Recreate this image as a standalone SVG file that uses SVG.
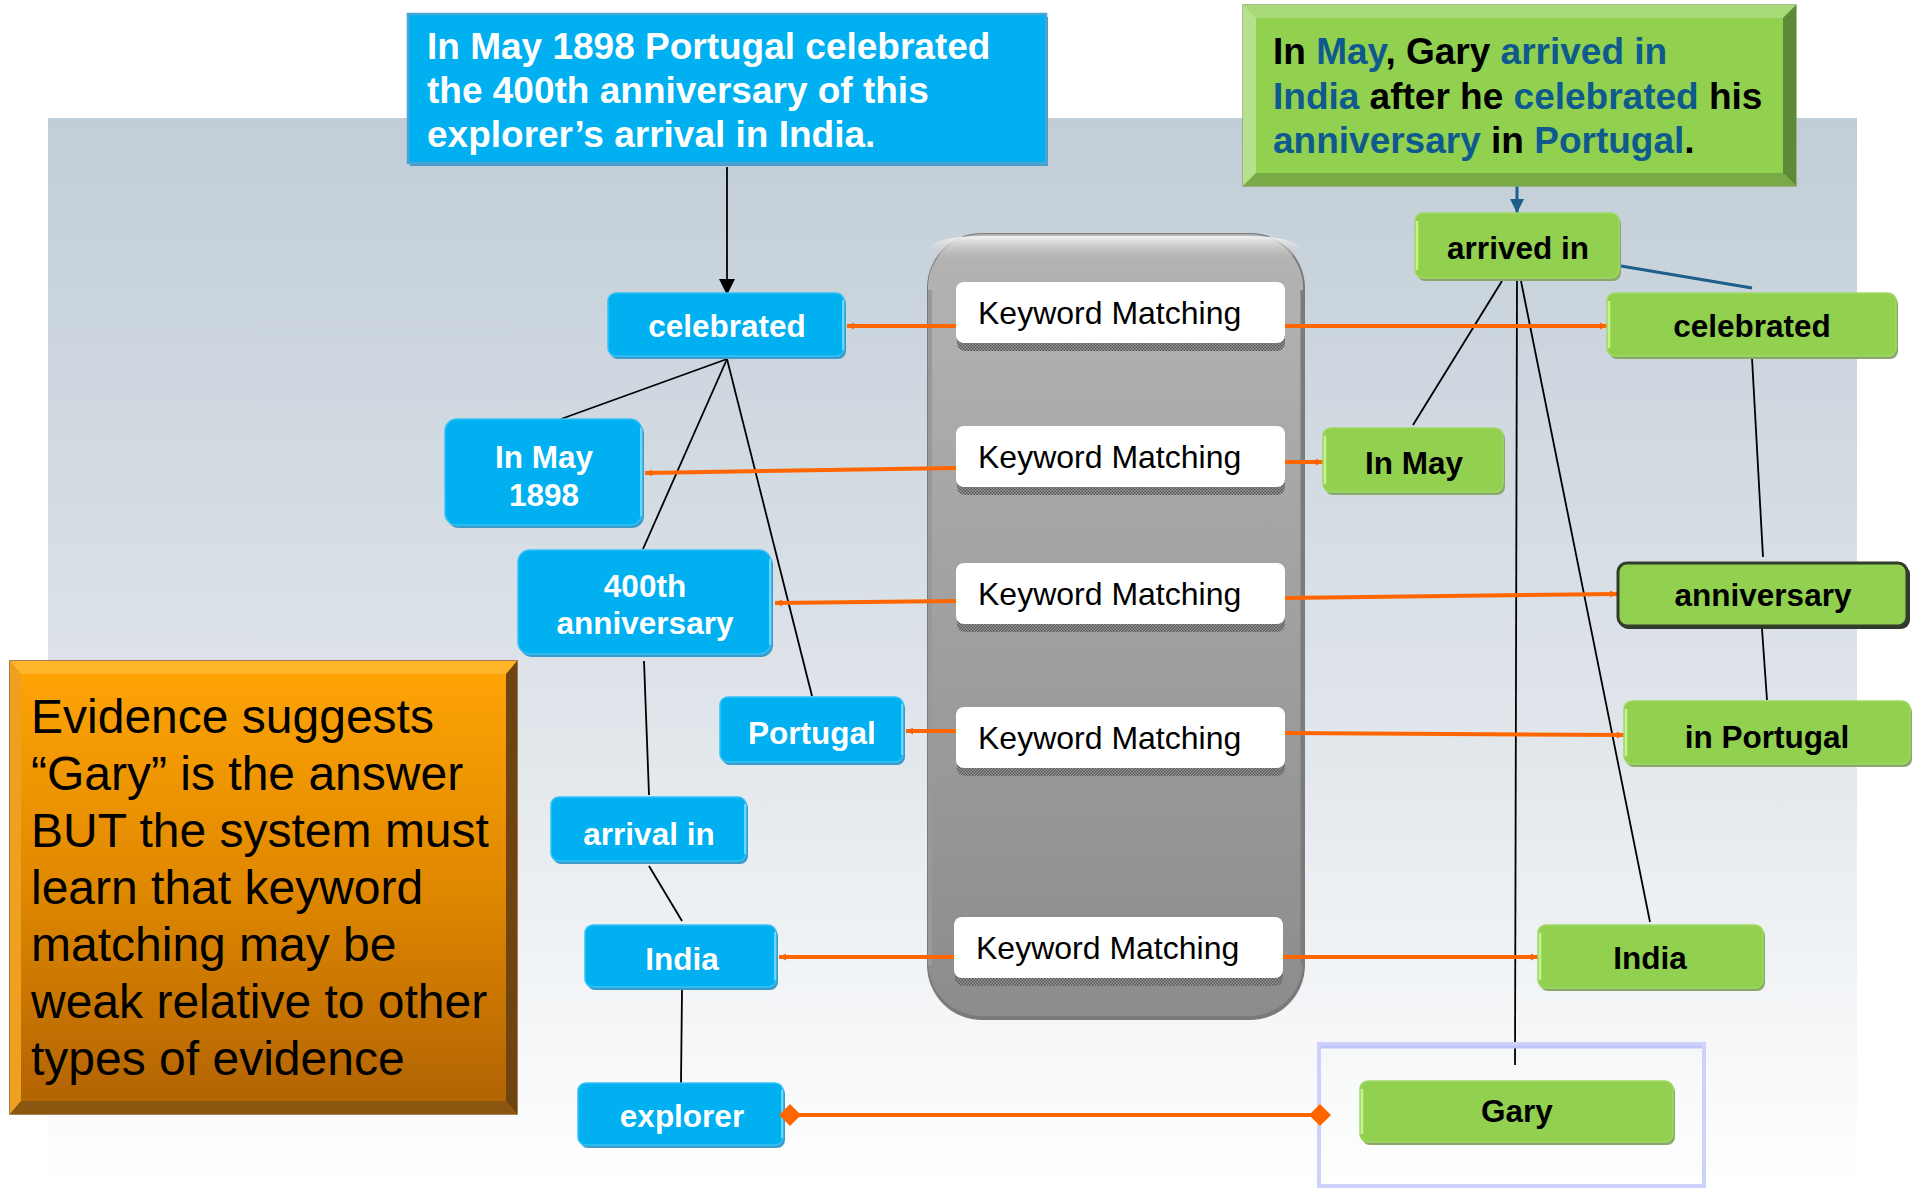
<svg xmlns="http://www.w3.org/2000/svg" width="1916" height="1189" viewBox="0 0 1916 1189">
<defs>
<linearGradient id="gpanel" x1="0" y1="0" x2="0" y2="1">
<stop offset="0" stop-color="#c1cdd7"/><stop offset="0.5" stop-color="#dce2e8"/><stop offset="1" stop-color="#ffffff"/>
</linearGradient>
<linearGradient id="gcont" x1="0" y1="0" x2="0" y2="1">
<stop offset="0" stop-color="#b4b4b4"/><stop offset="1" stop-color="#8c8c8c"/>
</linearGradient>
<linearGradient id="gorange" x1="0" y1="0" x2="0" y2="1">
<stop offset="0" stop-color="#ffa506"/><stop offset="0.5" stop-color="#e08800"/><stop offset="1" stop-color="#b06204"/>
</linearGradient>
<linearGradient id="ghl" x1="0" y1="0" x2="0" y2="1">
<stop offset="0" stop-color="#f4f4f4"/><stop offset="1" stop-color="#b4b4b4" stop-opacity="0"/>
</linearGradient>
<pattern id="hatch" width="3" height="3" patternUnits="userSpaceOnUse">
<rect width="3" height="3" fill="#9a9a9a"/><rect width="1.5" height="1.5" fill="#555"/><rect x="1.5" y="1.5" width="1.5" height="1.5" fill="#555"/>
</pattern>
<marker id="tri" viewBox="0 0 10 10" refX="10" refY="5" markerWidth="7" markerHeight="10" markerUnits="userSpaceOnUse" orient="auto">
<path d="M0,0 L10,5 L0,10 z" fill="#ff6600"/>
</marker>
<marker id="dia" viewBox="0 0 10 10" refX="5" refY="5" markerWidth="22" markerHeight="22" markerUnits="userSpaceOnUse" orient="auto">
<path d="M0,5 L5,0 L10,5 L5,10 z" fill="#ff6600"/>
</marker>
<marker id="arrB" viewBox="0 0 10 10" refX="10" refY="5" markerWidth="22" markerHeight="16" markerUnits="userSpaceOnUse" orient="auto">
<path d="M0,0 L10,5 L0,10 z" fill="#000"/>
</marker>
<marker id="arrT" viewBox="0 0 10 10" refX="10" refY="5" markerWidth="17" markerHeight="14" markerUnits="userSpaceOnUse" orient="auto">
<path d="M0,0 L10,5 L0,10 z" fill="#1d5e8a"/>
</marker>
</defs>
<style>
.bsh{fill:#3a9cca}
.bn{fill:#00b0f0;stroke:#33c2f6;stroke-width:1.5}
.bhl{stroke:#6ad8ff;stroke-width:2}
.gsh{fill:#8ba86a}
.gn{fill:#92d050;stroke:#9fd964;stroke-width:1.5}
.ghl{stroke:#c8f290;stroke-width:2.5}
.bt{font-family:"Liberation Sans",Arial,sans-serif;font-weight:bold;font-size:31.5px;fill:#fff;text-anchor:middle}
.gt{font-family:"Liberation Sans",Arial,sans-serif;font-weight:bold;font-size:31.5px;fill:#000;text-anchor:middle}
.km{fill:#fff}
.kms{fill:url(#hatch)}
.kt{font-family:"Liberation Sans",Arial,sans-serif;font-size:32px;fill:#000}
.or{stroke:#ff6600;stroke-width:4;fill:none}
.bl{stroke:#000;stroke-width:1.8;fill:none}
.big{font-family:"Liberation Sans",Arial,sans-serif;font-weight:bold;font-size:37px}
.db{fill:#0e5a8c}
.ev{font-family:"Liberation Sans",Arial,sans-serif;font-size:48px;fill:#000}
</style>

<rect x="0" y="0" width="1916" height="1189" fill="#fff"/>
<rect x="48" y="118" width="1809" height="1071" fill="url(#gpanel)"/>

<g id="matcher">
<rect x="927" y="233" width="378" height="787" rx="55" fill="#7a7a7a"/>
<rect x="928" y="234" width="375" height="782" rx="54" fill="url(#gcont)"/>
<rect x="930" y="236" width="370" height="26" rx="50" fill="url(#ghl)"/>
<line x1="930" y1="290" x2="930" y2="965" stroke="#999" stroke-width="4"/>
<line x1="1302" y1="290" x2="1302" y2="965" stroke="#7c7c7c" stroke-width="3"/>
</g>

<g id="connectors">
<line class="bl" x1="727" y1="167" x2="727" y2="295" marker-end="url(#arrB)"/>
<line x1="1517" y1="186" x2="1517" y2="213" stroke="#1d5e8a" stroke-width="3" marker-end="url(#arrT)"/>
<line x1="1621" y1="266" x2="1752" y2="288" stroke="#1d5e8a" stroke-width="3"/>
<line class="bl" x1="727" y1="359" x2="561" y2="419"/>
<line class="bl" x1="727" y1="359" x2="643" y2="549"/>
<line class="bl" x1="727" y1="359" x2="812" y2="696"/>
<line class="bl" x1="644" y1="661" x2="649" y2="795"/>
<line class="bl" x1="649" y1="866" x2="682" y2="921"/>
<line class="bl" x1="682" y1="990" x2="681" y2="1084"/>
<line class="bl" x1="1502" y1="281" x2="1413" y2="425"/>
<line class="bl" x1="1517" y1="281" x2="1515" y2="1065"/>
<line class="bl" x1="1521" y1="281" x2="1650" y2="922"/>
<line class="bl" x1="1752" y1="358" x2="1763" y2="557"/>
<line class="bl" x1="1762" y1="629" x2="1767" y2="700"/>
<line class="or" x1="956" y1="326" x2="847" y2="326" marker-end="url(#tri)"/>
<line class="or" x1="1285" y1="326" x2="1607" y2="326" marker-end="url(#tri)"/>
<line class="or" x1="956" y1="468" x2="645" y2="473" marker-end="url(#tri)"/>
<line class="or" x1="1285" y1="462" x2="1323" y2="462" marker-end="url(#tri)"/>
<line class="or" x1="956" y1="601" x2="775" y2="603" marker-end="url(#tri)"/>
<line class="or" x1="1285" y1="598" x2="1617" y2="594" marker-end="url(#tri)"/>
<line class="or" x1="956" y1="731" x2="906" y2="731" marker-end="url(#tri)"/>
<line class="or" x1="1285" y1="733" x2="1624" y2="735" marker-end="url(#tri)"/>
<line class="or" x1="956" y1="957" x2="779" y2="957" marker-end="url(#tri)"/>
<line class="or" x1="1283" y1="957" x2="1538" y2="957" marker-end="url(#tri)"/>
</g>

<g id="question">
<rect x="410" y="17" width="638" height="149" fill="#4a9cc8"/>
<rect x="408" y="14" width="638" height="149" fill="#00b0f0" stroke="#48a6d6" stroke-width="2.5"/>
<text class="big" fill="#fff"><tspan x="427" y="59">In May 1898 Portugal celebrated</tspan><tspan x="427" y="103">the 400th anniversary of this</tspan><tspan x="427" y="147">explorer’s arrival in India.</tspan></text>
</g>

<g id="passage">
<rect x="1243" y="5" width="553" height="181" fill="#92d050" stroke="#8aa872" stroke-width="1.5"/>
<polygon points="1243,5 1796,5 1783,18 1256,18" fill="#a8da78"/>
<polygon points="1243,5 1256,18 1256,173 1243,186" fill="#b6e28e"/>
<polygon points="1796,5 1796,186 1783,173 1783,18" fill="#5d8a36"/>
<polygon points="1243,186 1796,186 1783,173 1256,173" fill="#79aa46"/>
<text class="big" fill="#000"><tspan x="1273" y="64">In <tspan class="db">May</tspan>, Gary <tspan class="db">arrived in</tspan></tspan><tspan x="1273" y="109"><tspan class="db">India</tspan> after he <tspan class="db">celebrated</tspan> his</tspan><tspan x="1273" y="153"><tspan class="db">anniversary</tspan> in <tspan class="db">Portugal</tspan>.</tspan></text>
</g>

<g id="note">
<rect x="10" y="661" width="507" height="453" fill="url(#gorange)" stroke="#8a5a18" stroke-width="1.5"/>
<polygon points="10,661 517,661 506,674 21,674" fill="#ffb52a"/>
<polygon points="10,661 21,674 21,1101 10,1114" fill="#f0a020"/>
<polygon points="517,661 517,1114 506,1101 506,674" fill="#6e4410"/>
<polygon points="10,1114 517,1114 506,1101 21,1101" fill="#8a5610"/>
<text class="ev"><tspan x="31" y="733">Evidence suggests</tspan><tspan x="31" y="790">“Gary” is the answer</tspan><tspan x="31" y="847">BUT the system must</tspan><tspan x="31" y="904">learn that keyword</tspan><tspan x="31" y="961">matching may be</tspan><tspan x="31" y="1018">weak relative to other</tspan><tspan x="31" y="1075">types of evidence</tspan></text>
</g>

<g id="km1"><rect class="kms" x="957" y="290" width="328" height="61" rx="8"/><rect class="km" x="956" y="282" width="329" height="61" rx="8"/><text class="kt" x="978" y="324">Keyword Matching</text></g>
<g id="km2"><rect class="kms" x="957" y="434" width="328" height="61" rx="8"/><rect class="km" x="956" y="426" width="329" height="61" rx="8"/><text class="kt" x="978" y="468">Keyword Matching</text></g>
<g id="km3"><rect class="kms" x="957" y="571" width="328" height="61" rx="8"/><rect class="km" x="956" y="563" width="329" height="61" rx="8"/><text class="kt" x="978" y="605">Keyword Matching</text></g>
<g id="km4"><rect class="kms" x="957" y="715" width="328" height="61" rx="8"/><rect class="km" x="956" y="707" width="329" height="61" rx="8"/><text class="kt" x="978" y="749">Keyword Matching</text></g>
<g id="km5"><rect class="kms" x="955" y="925" width="328" height="61" rx="8"/><rect class="km" x="954" y="917" width="329" height="61" rx="8"/><text class="kt" x="976" y="959">Keyword Matching</text></g>

<g id="q-celebrated"><rect class="bsh" x="610" y="296" width="236" height="63" rx="8"/><rect class="bn" x="608" y="293" width="236" height="63" rx="8"/><line class="bhl" x1="843" y1="300" x2="843" y2="350"/><text class="bt" x="727" y="337">celebrated</text></g>
<g id="q-inmay"><rect class="bsh" x="447" y="422" width="197" height="106" rx="12"/><rect class="bn" x="445" y="419" width="197" height="106" rx="12"/><line class="bhl" x1="641" y1="428" x2="641" y2="516"/><text class="bt" x="544" y="468">In May</text><text class="bt" x="544" y="506">1898</text></g>
<g id="q-400th"><rect class="bsh" x="520" y="553" width="253" height="104" rx="12"/><rect class="bn" x="518" y="550" width="253" height="104" rx="12"/><line class="bhl" x1="770" y1="559" x2="770" y2="645"/><text class="bt" x="645" y="597">400th</text><text class="bt" x="645" y="634">anniversary</text></g>
<g id="q-portugal"><rect class="bsh" x="722" y="700" width="183" height="65" rx="8"/><rect class="bn" x="720" y="697" width="183" height="65" rx="8"/><line class="bhl" x1="902" y1="704" x2="902" y2="755"/><text class="bt" x="812" y="744">Portugal</text></g>
<g id="q-arrival"><rect class="bsh" x="553" y="800" width="195" height="64" rx="8"/><rect class="bn" x="551" y="797" width="195" height="64" rx="8"/><line class="bhl" x1="745" y1="804" x2="745" y2="854"/><text class="bt" x="649" y="845">arrival in</text></g>
<g id="q-india"><rect class="bsh" x="587" y="928" width="191" height="62" rx="8"/><rect class="bn" x="585" y="925" width="191" height="62" rx="8"/><line class="bhl" x1="775" y1="932" x2="775" y2="980"/><text class="bt" x="682" y="970">India</text></g>
<g id="q-explorer"><rect class="bsh" x="580" y="1086" width="205" height="62" rx="8"/><rect class="bn" x="578" y="1083" width="205" height="62" rx="8"/><line class="bhl" x1="782" y1="1090" x2="782" y2="1138"/><text class="bt" x="682" y="1127">explorer</text></g>

<g id="p-arrived"><rect class="gsh" x="1417" y="216" width="204" height="65" rx="8"/><rect class="gn" x="1415" y="213" width="204" height="65" rx="8"/><line class="ghl" x1="1417" y1="221" x2="1417" y2="270"/><text class="gt" x="1518" y="259">arrived in</text></g>
<g id="p-celebrated"><rect class="gsh" x="1609" y="296" width="289" height="63" rx="8"/><rect class="gn" x="1607" y="293" width="289" height="63" rx="8"/><line class="ghl" x1="1609" y1="301" x2="1609" y2="348"/><text class="gt" x="1752" y="337">celebrated</text></g>
<g id="p-inmay"><rect class="gsh" x="1325" y="431" width="180" height="64" rx="8"/><rect class="gn" x="1323" y="428" width="180" height="64" rx="8"/><line class="ghl" x1="1325" y1="436" x2="1325" y2="484"/><text class="gt" x="1414" y="474">In May</text></g>
<g id="p-anniversary"><rect x="1619" y="565" width="291" height="64" rx="9" fill="#2f3a2a"/><rect x="1618" y="563" width="289" height="63" rx="9" fill="#92d050" stroke="#333d2c" stroke-width="3"/><text class="gt" x="1763" y="606">anniversary</text></g>
<g id="p-inportugal"><rect class="gsh" x="1626" y="704" width="286" height="63" rx="8"/><rect class="gn" x="1624" y="701" width="286" height="63" rx="8"/><line class="ghl" x1="1626" y1="709" x2="1626" y2="756"/><text class="gt" x="1767" y="748">in Portugal</text></g>
<g id="p-india"><rect class="gsh" x="1540" y="928" width="225" height="63" rx="8"/><rect class="gn" x="1538" y="925" width="225" height="63" rx="8"/><line class="ghl" x1="1540" y1="933" x2="1540" y2="980"/><text class="gt" x="1650" y="969">India</text></g>
<g id="answer">
<rect x="1319" y="1044" width="385" height="142" fill="none" stroke="#cdd1fb" stroke-width="4"/>
<line x1="1321" y1="1047" x2="1702" y2="1047" stroke="#bfc5fa" stroke-width="3"/>
<g id="p-gary"><rect class="gsh" x="1362" y="1084" width="313" height="61" rx="8"/><rect class="gn" x="1360" y="1081" width="313" height="61" rx="8"/><line class="ghl" x1="1362" y1="1089" x2="1362" y2="1134"/><text class="gt" x="1517" y="1122">Gary</text></g>
</g>
<g id="connector-explorer-gary">
<line class="or" x1="790" y1="1115" x2="1320" y2="1115" marker-start="url(#dia)" marker-end="url(#dia)"/>
</g>
</svg>
